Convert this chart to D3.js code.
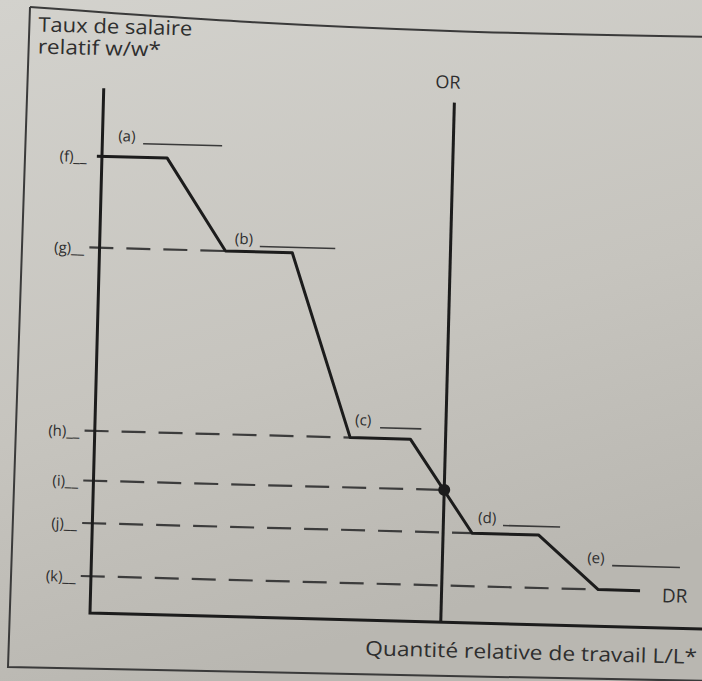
<!DOCTYPE html>
<html>
<head>
<meta charset="utf-8">
<script src="https://cdn.jsdelivr.net/npm/d3@7"></script>
<style>
  html, body { margin: 0; padding: 0; background: #c6c4be; }
  svg { display: block; }
  text { font-family: 'Open Sans', sans-serif; fill: #2e2e2e; }
</style>
</head>
<body>
<svg id="chart" width="702" height="681"></svg>
<script>
// demande relative DR, en paliers (x = L/L*, y = w/w*)
const drX = [0, 1.28, 2.47, 3.78, 5.01, 6.19, 7.45, 8.75, 9.95, 10.77];
const drY = [8.70, 8.70, 6.96, 6.96, 3.47, 3.47, 1.71, 1.71, 0.70, 0.70];
// offre relative OR
const orX = 6.88;
const orTop = 9.9;
// niveaux de salaire a lire sur l'axe
const levelNames = ['(f)', '(g)', '(h)', '(i)', '(j)', '(k)'];
const levelY = [8.70, 6.96, 3.47, 2.52, 1.71, 0.70];
const levelEndX = [0, 2.47, 5.01, 6.88, 7.45, 9.95];
// paliers a nommer
const stepNames = ['(a)', '(b)', '(c)', '(d)', '(e)'];
const stepX = [0.31, 2.65, 5.10, 7.56, 9.72];
const stepY = [9.00, 7.10, 3.71, 1.91, 1.20];
const stepEndX = [2.35, 4.62, 6.40, 9.17, 11.54];
const yTitle = ['Taux de salaire', 'relatif w/w*'];
const xTitle = 'Quantité relative de travail L/L*';

const svg = d3.select('#chart');
const ink = '#1c1c1c';

const defs = svg.append('defs');
const grad = defs.append('linearGradient')
  .attr('id', 'paper').attr('x1', 0).attr('y1', 0).attr('x2', 0.3).attr('y2', 1);
grad.append('stop').attr('offset', 0).attr('stop-color', '#d3d2cd');
grad.append('stop').attr('offset', 0.6).attr('stop-color', '#c6c4be');
grad.append('stop').attr('offset', 1).attr('stop-color', '#b9b7b1');
svg.append('rect').attr('width', 702).attr('height', 681).attr('fill', 'url(#paper)');

// cadre de la page photographiee
const frame = [[30, 7], [250, 22], [450, 31], [710, 37]];
const frameLow = [[30, 7], [8, 667], [400, 675], [710, 681]];
svg.append('path')
  .attr('d', d3.line().curve(d3.curveMonotoneX)(frame))
  .attr('fill', 'none').attr('stroke', '#3a3a3a').attr('stroke-width', 2);
svg.append('path')
  .attr('d', d3.line()(frameLow))
  .attr('fill', 'none').attr('stroke', '#3a3a3a').attr('stroke-width', 2);

const x = d3.scaleLinear().domain([0, 12]).range([0, 612]);
const y = d3.scaleLinear().domain([0, 10]).range([0, -525]);

const g = svg.append('g').attr('transform', 'translate(90,613) rotate(1.5)');

// pointilles des niveaux
g.selectAll('.level')
  .data(levelY.slice(1))
  .enter().append('line')
  .attr('class', 'level')
  .attr('x1', x(-0.2))
  .attr('x2', (d, i) => x(levelEndX[i + 1]))
  .attr('y1', d => y(d))
  .attr('y2', d => y(d))
  .attr('stroke', '#3c3c3c')
  .attr('stroke-width', 2.2)
  .attr('stroke-dasharray', '24,13');

// axes
g.append('path')
  .attr('d', d3.line()([[x(0), y(10)], [x(0), y(0)], [x(12.3), y(0)]]))
  .attr('fill', 'none').attr('stroke', ink).attr('stroke-width', 3);

// OR
g.append('line')
  .attr('x1', x(orX)).attr('x2', x(orX))
  .attr('y1', y(0)).attr('y2', y(orTop))
  .attr('stroke', ink).attr('stroke-width', 3);

// DR
g.append('path')
  .attr('d', d3.line().x(d => x(d[0])).y(d => y(d[1]))(d3.zip([-0.1, ...drX.slice(1)], drY)))
  .attr('fill', 'none').attr('stroke', ink).attr('stroke-width', 3)
  .attr('stroke-linejoin', 'round');

g.append('circle')
  .attr('cx', x(orX)).attr('cy', y(levelY[3])).attr('r', 6)
  .attr('fill', ink);

// etiquettes des niveaux
g.selectAll('.lname')
  .data(levelNames)
  .enter().append('text')
  .attr('class', 'lname')
  .attr('x', x(-0.3))
  .attr('y', (d, i) => y(levelY[i]) + 6)
  .attr('text-anchor', 'end')
  .attr('font-size', 15)
  .text(d => d + '__');

// etiquettes des paliers
const steps = g.selectAll('.step')
  .data(stepNames)
  .enter().append('g')
  .attr('class', 'step');
steps.append('text')
  .attr('x', (d, i) => x(stepX[i]))
  .attr('y', (d, i) => y(stepY[i]))
  .attr('font-size', 15)
  .text(d => d);
steps.append('line')
  .attr('x1', (d, i) => x(stepX[i]) + 25)
  .attr('x2', (d, i) => x(stepEndX[i]))
  .attr('y1', (d, i) => y(stepY[i]) + 2)
  .attr('y2', (d, i) => y(stepY[i]) + 2)
  .attr('stroke', '#3a3a3a').attr('stroke-width', 1.6);

g.append('text')
  .attr('x', x(orX) - 7).attr('y', y(orTop) - 14)
  .attr('text-anchor', 'middle').attr('font-size', 18)
  .text('OR');

g.append('text')
  .attr('x', x(drX[drX.length - 1]) + 22).attr('y', y(drY[drY.length - 1]) + 11)
  .attr('font-size', 19)
  .text('DR');

g.selectAll('.ytitle')
  .data(yTitle)
  .enter().append('text')
  .attr('class', 'ytitle')
  .attr('x', -67)
  .attr('y', (d, i) => y(10) - 55 + i * 22)
  .attr('font-size', 20)
  .attr('textLength', (d, i) => [154, 123][i])
  .attr('lengthAdjust', 'spacingAndGlyphs')
  .text(d => d);

g.append('text')
  .attr('x', x(12) - 4).attr('y', y(0) + 35)
  .attr('text-anchor', 'end').attr('font-size', 20)
  .attr('textLength', 332)
  .attr('lengthAdjust', 'spacingAndGlyphs')
  .text(xTitle);
</script>
</body>
</html>
